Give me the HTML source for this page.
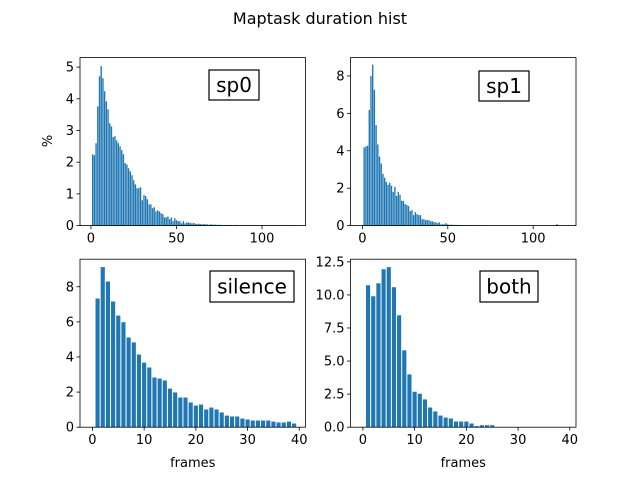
<!DOCTYPE html>
<html><head><meta charset="utf-8"><style>
body{margin:0;background:#fff}
svg text{font-family:"DejaVu Sans","Liberation Sans",sans-serif;fill:#000}
</style></head><body>
<svg id="chart" width="640" height="480" viewBox="0 0 640 480" xmlns="http://www.w3.org/2000/svg">
<rect width="640" height="480" fill="#fff"/>
<text x="320" y="24" font-size="16" text-anchor="middle">Maptask duration hist</text>
</svg>
<script>
const sp0Values=[2.25,2.22,2.6,3.76,4.71,5.03,4.65,4.24,3.92,3.67,3.23,3.13,2.79,2.82,2.69,2.6,2.5,2.38,2.25,1.97,1.93,1.81,1.71,1.59,1.43,1.3,1.18,1.18,1.21,0.8,0.96,0.93,0.83,0.67,0.67,0.55,0.58,0.45,0.48,0.45,0.39,0.36,0.26,0.26,0.29,0.2,0.26,0.14,0.23,0.17,0.14,0.14,0.07,0.14,0.07,0.1,0.1,0.08,0.07,0.08,0.06,0.05,0.06,0.05,0.04,0.05,0.04,0.04,0.03,0.04,0.03,0.03,0.03,0.02,0.03,0.02,0.02,0.02,0.02,0.02,0.01,0.02,0.01,0.01,0.02,0.01,0.01,0.01,0.01,0.01,0.01,0.01,0.01,0.01,0.01,0.01,0.01,0.01,0.01,0.01,0.01,0.01,0.01,0.01,0.01,0.01,0.01,0.01,0.01,0.01,0.01,0.01,0.01,0.01,0.01,0.01,0.01,0.01,0.01];
const sp1Values=[4.18,4.23,4.27,6.18,8.0,8.6,7.26,5.37,4.34,3.69,3.32,2.77,2.56,2.34,2.18,2.29,2.13,1.8,2.07,1.59,1.8,1.64,1.32,1.32,1.15,1.1,1.05,0.77,0.83,0.56,0.72,0.61,0.56,0.56,0.34,0.34,0.29,0.29,0.29,0.23,0.23,0.18,0.18,0.13,0.18,0.07,0.07,0.07,0.13,0.07,0.04,0.05,0.04,0.04,0.03,0.04,0.03,0.03,0.03,0.02,0.03,0.02,0.02,0.02,0.02,0.02,0.01,0.02,0.01,0.01,0.02,0.01,0.01,0.01,0.01,0.01,0.01,0.01,0.01,0.01,0.01,0.01,0.01,0.01,0.01,0.01,0.01,0.01,0.01,0.01,0.01,0.01,0.01,0.01,0.01,0.01,0.01,0.01,0.01,0.01,0.01,0.01,0.01,0.01,0.01,0.01,0.01,0.01,0.01,0.01,0.01,0.01,0.01,0.08];
const silenceValues=[7.33,9.12,8.3,7.16,6.36,5.98,5.11,4.83,4.14,3.68,3.4,2.83,2.77,2.66,2.2,1.98,1.69,1.69,1.41,1.23,1.29,1.01,1.12,1.01,0.84,0.66,0.61,0.61,0.49,0.44,0.38,0.38,0.38,0.38,0.32,0.27,0.27,0.32,0.21];
const bothValues=[10.73,9.9,10.88,11.94,12.1,10.58,8.46,5.81,3.99,2.68,2.53,2.1,1.49,1.19,0.88,0.73,0.66,0.43,0.43,0.43,0.28,0.08,0.15,0.15,0.15];
const sp0YTicks=[0,1,2,3,4,5];
const sp1YTicks=[0,2,4,6,8];
const silenceYTicks=[0,2,4,6,8];
const bothYTicks=[0,2.5,5,7.5,10,12.5];
const bothYTickLabels=["0.0","2.5","5.0","7.5","10.0","12.5"];
const topXTicks=[0,50,100];
const bottomXTicks=[0,10,20,30,40];

const NS="http://www.w3.org/2000/svg";
const svg=document.getElementById('chart');
function mk(tag,attrs,parent){const e=document.createElementNS(NS,tag);for(const k in attrs)e.setAttribute(k,attrs[k]);(parent||svg).appendChild(e);return e;}

const panels=[
 {name:'sp0',vals:sp0Values,x0:80,y0:57.6,xmin:-6.4,xmax:125.4,ymax:5.3,yt:sp0YTicks,ytl:null,xt:topXTicks,box:[209,70,50,30],ylabel:true,xlabel:false},
 {name:'sp1',vals:sp1Values,x0:350.5,y0:57.6,xmin:-7,xmax:125.1,ymax:8.98,yt:sp1YTicks,ytl:null,xt:topXTicks,box:[479,71,50,30],ylabel:false,xlabel:false},
 {name:'silence',vals:silenceValues,x0:80,y0:259.2,xmin:-2.4,xmax:41.2,ymax:9.57,yt:silenceYTicks,ytl:null,xt:bottomXTicks,box:[210,271,84,31],ylabel:false,xlabel:true},
 {name:'both',vals:bothValues,x0:350.5,y0:259.2,xmin:-2.4,xmax:41.2,ymax:12.7,yt:bothYTicks,ytl:bothYTickLabels,xt:bottomXTicks,box:[480,271,58,31],ylabel:false,xlabel:true}
];
const W=225.5,H=168;
panels.forEach(p=>{
  const g=mk('g',{});
  
  
  const sx=v=>p.x0+(v-p.xmin)/(p.xmax-p.xmin)*W;
  const sy=v=>p.y0+H-v/p.ymax*H;
  p.vals.forEach((v,i)=>{
    const x=i+1;
    const r=mk('rect',{x:sx(x-0.4),y:sy(v),width:sx(x+0.4)-sx(x-0.4),height:sy(0)-sy(v),fill:'#1f77b4'},g);
    
    
  });
  const fr=mk('rect',{x:p.x0,y:p.y0,width:W,height:H,fill:'none',stroke:'#000','stroke-width':0.8},g);
  
  
  p.yt.forEach((t,i)=>{
    const y=sy(t);
    mk('line',{x1:p.x0-3.5,x2:p.x0,y1:y,y2:y,stroke:'#000','stroke-width':0.8},g);
    const tx=mk('text',{x:p.x0-6,y:y+4.5,'font-size':13,'text-anchor':'end'},g);
    tx.textContent=p.ytl?p.ytl[i]:String(t);
    
    
  });
  p.xt.forEach(t=>{
    const x=sx(t);
    mk('line',{x1:x,x2:x,y1:p.y0+H,y2:p.y0+H+3.5,stroke:'#000','stroke-width':0.8},g);
    const tx=mk('text',{x:x,y:p.y0+H+17,'font-size':13,'text-anchor':'middle'},g);
    tx.textContent=String(t);
    
    
  });
  const b=p.box;
  const br=mk('rect',{x:b[0],y:b[1],width:b[2],height:b[3],fill:'#fff',stroke:'#000','stroke-width':1.2},g);
  
  
  const bt=mk('text',{x:b[0]+b[2]/2,y:b[1]+b[3]/2+7,'font-size':20,'text-anchor':'middle'},g);
  bt.textContent=p.name;
  
  
  if(p.xlabel){
    const xl=mk('text',{x:p.x0+W/2,y:467,'font-size':13,'text-anchor':'middle'},g);
    xl.textContent='frames';
    
    
  }
  if(p.ylabel){
    const yl=mk('text',{x:0,y:0,'font-size':13,'text-anchor':'middle',transform:'translate(52,141) rotate(-90)'},g);
    yl.textContent='%';
    
    
  }
});
</script>
</body></html>
